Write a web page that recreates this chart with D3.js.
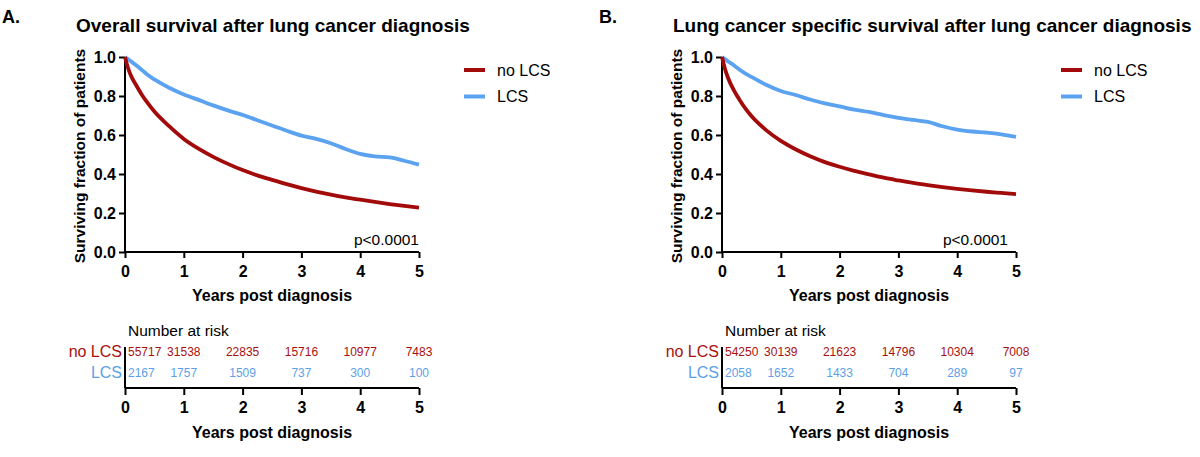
<!DOCTYPE html>
<html>
<head>
<meta charset="utf-8">
<script src="https://cdn.jsdelivr.net/npm/d3@7"></script>
<style>
  body { margin: 0; background: #fff; }
  text { font-family: "Liberation Sans", Arial, Helvetica, sans-serif; }
</style>
</head>
<body>
<div id="chart"></div>
<script>
// ---- data ----
let years = [0, 1, 2, 3, 4, 5];
let yTicks = [0, 0.2, 0.4, 0.6, 0.8, 1.0];
let times = [0, 0.05, 0.1, 0.2, 0.3, 0.4, 0.5, 0.75, 1, 1.25, 1.5, 1.75, 2,
  2.25, 2.5, 2.75, 3, 3.25, 3.5, 3.75, 4, 4.25, 4.5, 4.75, 5];

// A. overall survival
let osNoLcs = [1.0, 0.945, 0.905, 0.85, 0.8, 0.758, 0.72, 0.645, 0.58, 0.53,
  0.488, 0.452, 0.42, 0.393, 0.37, 0.348, 0.328, 0.31, 0.294, 0.28, 0.268,
  0.257, 0.246, 0.236, 0.227];
let osLcs = [1.0, 0.99, 0.978, 0.955, 0.93, 0.905, 0.885, 0.842, 0.808, 0.78,
  0.752, 0.726, 0.703, 0.676, 0.649, 0.622, 0.597, 0.58, 0.558, 0.528, 0.503,
  0.49, 0.485, 0.468, 0.448];
// B. lung cancer specific survival
let lcssNoLcs = [1.0, 0.94, 0.895, 0.83, 0.78, 0.735, 0.697, 0.625, 0.57, 0.527,
  0.491, 0.461, 0.437, 0.416, 0.398, 0.381, 0.367, 0.354, 0.343, 0.333, 0.324,
  0.316, 0.309, 0.303, 0.297];
let lcssLcs = [1.0, 0.99, 0.978, 0.958, 0.935, 0.915, 0.898, 0.858, 0.826, 0.805,
  0.782, 0.762, 0.747, 0.73, 0.718, 0.702, 0.688, 0.677, 0.667, 0.645, 0.628,
  0.618, 0.612, 0.603, 0.59];

// number at risk
let osRiskNoLcs = [55717, 31538, 22835, 15716, 10977, 7483];
let osRiskLcs = [2167, 1757, 1509, 737, 300, 100];
let lcssRiskNoLcs = [54250, 30139, 21623, 14796, 10304, 7008];
let lcssRiskLcs = [2058, 1652, 1433, 704, 289, 97];

let groups = ["no LCS", "LCS"];

// ---- drawing ----
let red = "#a30a0a", blue = "#5ba2f0";
let redText = "#a8100f", blueText = "#5c9fe8";
let font = '"Liberation Sans", Arial, Helvetica, sans-serif';

let svg = d3.select("#chart").append("svg")
  .attr("width", 1200)
  .attr("height", 457);

function drawPanel(ox, letter, title, noLcs, lcs, riskNo, riskYes, pShift) {
  let g = svg.append("g").attr("transform", "translate(" + ox + ",0)");

  let x = d3.scaleLinear().domain([0, 5]).range([125, 419]);
  let y = d3.scaleLinear().domain([0, 1]).range([252, 57]);

  g.append("text").attr("x", 2).attr("y", 23)
    .attr("font-size", 18).attr("font-weight", "bold").text(letter);
  g.append("text").attr("x", 76).attr("y", 32)
    .attr("font-size", 19).attr("font-weight", "bold").text(title);

  // axes
  let yAxis = g.append("g").attr("transform", "translate(125,0)")
    .call(d3.axisLeft(y).tickValues(yTicks).tickFormat(d3.format(".1f"))
      .tickSize(6).tickPadding(3));
  let xAxis = g.append("g").attr("transform", "translate(0,252)")
    .call(d3.axisBottom(x).tickValues(years).tickFormat(d3.format("d"))
      .tickSize(6).tickPadding(8));
  [yAxis, xAxis].forEach((a) => {
    a.selectAll("path, line").attr("stroke", "#000").attr("stroke-width", 2);
    a.selectAll("text").attr("font-family", font).attr("font-size", 16)
      .attr("font-weight", "bold").attr("fill", "#000");
  });
  yAxis.select(".domain").attr("d", "M0,252V57");
  xAxis.select(".domain").attr("d", "M125,0H419");

  g.append("text")
    .attr("transform", "translate(84.5,156) rotate(-90)")
    .attr("text-anchor", "middle")
    .attr("font-size", 15.5).attr("font-weight", "bold")
    .text("Surviving fraction of patients");
  g.append("text").attr("x", 272).attr("y", 301)
    .attr("text-anchor", "middle")
    .attr("font-size", 16).attr("font-weight", "bold")
    .text("Years post diagnosis");

  // survival curves
  let line = d3.line()
    .x((d, i) => x(times[i]))
    .y((d) => y(d))
    .curve(d3.curveMonotoneX);
  g.append("path").datum(lcs).attr("d", line)
    .attr("fill", "none").attr("stroke", blue).attr("stroke-width", 3.8)
    .attr("stroke-linejoin", "round");
  g.append("path").datum(noLcs).attr("d", line)
    .attr("fill", "none").attr("stroke", red).attr("stroke-width", 3.8)
    .attr("stroke-linejoin", "round");

  g.append("text").attr("x", 419 - pShift).attr("y", 244.5)
    .attr("text-anchor", "end").attr("font-size", 15.5)
    .text("p<0.0001");

  // legend
  [red, blue].forEach((c, i) => {
    g.append("line").attr("x1", 464).attr("x2", 485)
      .attr("y1", 70 + i * 26.5).attr("y2", 70 + i * 26.5)
      .attr("stroke", c).attr("stroke-width", 4);
    g.append("text").attr("x", 497).attr("y", 75.5 + i * 26.5)
      .attr("font-size", 16).text(groups[i]);
  });

  // number at risk table
  g.append("text").attr("x", 128).attr("y", 336)
    .attr("font-size", 15.5).text("Number at risk");

  let rows = [
    { label: groups[0], vals: riskNo, color: redText, yy: 357 },
    { label: groups[1], vals: riskYes, color: blueText, yy: 378 },
  ];
  rows.forEach((r) => {
    g.append("text").attr("x", 122).attr("y", r.yy)
      .attr("text-anchor", "end").attr("font-size", 16)
      .attr("fill", r.color).text(r.label);
    g.selectAll(null).data(r.vals).enter().append("text")
      .attr("x", (d, i) => (i === 0 ? x(years[i]) + 3 : x(years[i])))
      .attr("y", r.yy - 1)
      .attr("text-anchor", (d, i) => (i === 0 ? "start" : "middle"))
      .attr("font-size", 12).attr("fill", r.color)
      .text((d) => d);
  });

  let riskAxis = g.append("g").attr("transform", "translate(0,388)")
    .call(d3.axisBottom(x).tickValues(years).tickFormat(d3.format("d"))
      .tickSize(7).tickPadding(7));
  riskAxis.selectAll("path, line").attr("stroke", "#000").attr("stroke-width", 2);
  riskAxis.select(".domain").attr("d", "M125,0H419");
  riskAxis.selectAll("text").attr("font-family", font).attr("font-size", 16)
    .attr("font-weight", "bold").attr("fill", "#000");
  g.append("line").attr("x1", 125).attr("x2", 125)
    .attr("y1", 347).attr("y2", 388)
    .attr("stroke", "#000").attr("stroke-width", 2);

  g.append("text").attr("x", 272).attr("y", 438)
    .attr("text-anchor", "middle")
    .attr("font-size", 16).attr("font-weight", "bold")
    .text("Years post diagnosis");
}

drawPanel(0, "A.", "Overall survival after lung cancer diagnosis",
  osNoLcs, osLcs, osRiskNoLcs, osRiskLcs, 0);
drawPanel(597, "B.", "Lung cancer specific survival after lung cancer diagnosis",
  lcssNoLcs, lcssLcs, lcssRiskNoLcs, lcssRiskLcs, 8);
</script>
</body>
</html>
